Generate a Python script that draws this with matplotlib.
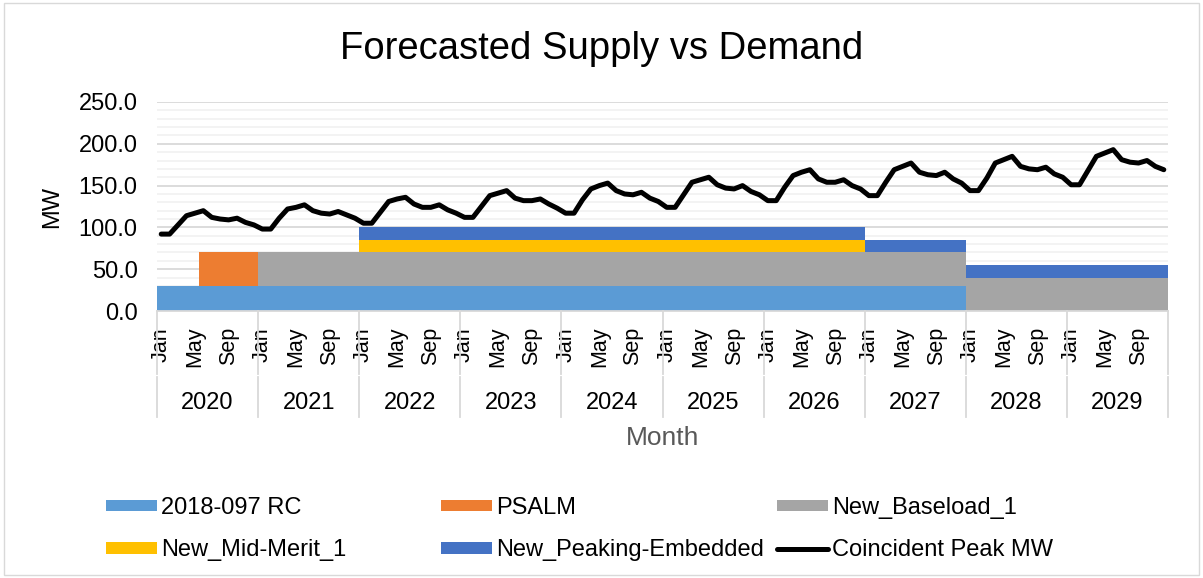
import matplotlib
matplotlib.use("Agg")
import matplotlib.pyplot as plt
import matplotlib.transforms as mtransforms
from matplotlib.patches import Rectangle
import numpy as np

plt.rcParams['font.family'] = ['Liberation Sans', 'DejaVu Sans']

# ---- data ----
years = [2020, 2021, 2022, 2023, 2024, 2025, 2026, 2027, 2028, 2029]
month_names = ['Jan', 'Feb', 'Mar', 'Apr', 'May', 'Jun',
               'Jul', 'Aug', 'Sep', 'Oct', 'Nov', 'Dec']
shown_months = ['Jan', 'May', 'Sep']

# supply by year (MW), repeated over the 12 months of each year
rc_2018_097_yearly = [30, 30, 30, 30, 30, 30, 30, 30, 0, 0]
baseload_yearly = [0, 40, 40, 40, 40, 40, 40, 40, 40, 40]
mid_merit_yearly = [0, 0, 15, 15, 15, 15, 15, 0, 0, 0]
peaking_yearly = [0, 0, 15, 15, 15, 15, 15, 15, 15, 15]
# PSALM only Jun-Dec 2020
psalm_2020 = [0, 0, 0, 0, 0, 40, 40, 40, 40, 40, 40, 40]

# coincident peak demand (MW), one row per year
peak_mw = [
    [92, 92, 103, 114, 117, 120, 112, 110, 109, 111, 106, 103],
    [98, 98, 111, 122, 124, 127, 120, 117, 116, 119, 115, 111],
    [105, 105, 118, 131, 134, 136, 128, 124, 124, 127, 121, 117],
    [112, 112, 125, 138, 141, 144, 135, 132, 132, 134, 128, 123],
    [117, 117, 133, 146, 150, 153, 144, 140, 139, 142, 135, 131],
    [124, 124, 139, 154, 157, 160, 151, 147, 146, 150, 143, 139],
    [132, 132, 148, 162, 166, 169, 158, 154, 154, 157, 150, 146],
    [138, 138, 154, 169, 173, 177, 166, 163, 162, 166, 158, 153],
    [144, 144, 159, 177, 181, 185, 173, 170, 169, 172, 164, 160],
    [151, 151, 168, 185, 189, 193, 181, 178, 177, 180, 173, 169],
]

# ---- build monthly series ----
n = len(years) * 12
x = np.arange(n)
rc = np.repeat(rc_2018_097_yearly, 12)
psalm = np.array(psalm_2020 + [0] * (n - 12))
baseload = np.repeat(baseload_yearly, 12)
mid_merit = np.repeat(mid_merit_yearly, 12)
peaking = np.repeat(peaking_yearly, 12)
demand = np.array(peak_mw).ravel()

W, H = 1203, 578
fig = plt.figure(figsize=(W / 100, H / 100), dpi=100)
ax = fig.add_axes([157 / W, 1 - 311 / H, (1168 - 157) / W, (311 - 102) / H])

series = [
    ('2018-097 RC', rc, '#5B9BD5'),
    ('PSALM', psalm, '#ED7D31'),
    ('New_Baseload_1', baseload, '#A5A5A5'),
    ('New_Mid-Merit_1', mid_merit, '#FFC000'),
    ('New_Peaking-Embedded', peaking, '#4472C4'),
]
handles = {}
bottom = np.zeros(n)
for name, vals, col in series:
    bars = ax.bar(x, vals, width=1.0, bottom=bottom, color=col,
                  linewidth=0, antialiased=False, zorder=2, label=name)
    handles[name] = bars
    bottom = bottom + vals

line, = ax.plot(x, demand, color='black', lw=3.6, zorder=3,
                solid_joinstyle='round', solid_capstyle='round',
                label='Coincident Peak MW')
handles['Coincident Peak MW'] = line

# ---- axes styling ----
ax.set_xlim(-0.5, n - 0.5)
ax.set_ylim(0, 250)
ax.set_yticks(np.arange(0, 251, 50))
ax.set_yticks(np.arange(0, 251, 10), minor=True)
ax.yaxis.set_major_formatter(matplotlib.ticker.FormatStrFormatter('%.1f'))
ax.grid(axis='y', which='minor', color='#f2f2f2', lw=1.3, zorder=0)
ax.grid(axis='y', which='major', color='#d9d9d9', lw=1.3, zorder=1)
ax.tick_params(axis='y', which='both', length=0, pad=14, labelsize=17)
for s in ['left', 'right', 'top']:
    ax.spines[s].set_visible(False)
ax.spines['bottom'].set_color('#d9d9d9')
ax.spines['bottom'].set_linewidth(1.3)
ax.set_axisbelow(True)

tick_pos = [i for i in x if month_names[i % 12] in shown_months]
ax.set_xticks(tick_pos)
ax.set_xticklabels([month_names[i % 12] for i in tick_pos], rotation=90)
ax.tick_params(axis='x', length=0, pad=11.5, labelsize=15.5)

# year labels and separators
trans = mtransforms.blended_transform_factory(ax.transData, ax.transAxes)
axh = 311 - 102
for k in range(len(years) + 1):
    xb = k * 12 - 0.5
    ax.plot([xb, xb], [0, -(374 - 311) / axh], transform=trans,
            color='#d9d9d9', lw=1.3, clip_on=False)
    ax.plot([xb, xb], [-(377 - 311) / axh, -(417 - 311) / axh], transform=trans,
            color='#d9d9d9', lw=1.3, clip_on=False)
for k, yr in enumerate(years):
    ax.text(k * 12 + 5.5, -(403 - 311) / axh, str(yr), transform=trans,
            ha='center', va='center', fontsize=17)

ax.set_ylabel('MW', fontsize=17)
ax.yaxis.set_label_coords(-(157 - 63) / (1168 - 157), 0.5)

fig.text((157 + 1168) / 2 / W, 1 - 438 / H, 'Month', ha='center', va='center',
         fontsize=19, color='#595959')
fig.text(0.5, 1 - 49 / H, 'Forecasted Supply vs Demand', ha='center',
         va='center', fontsize=27.5)

# ---- legend: three columns ----
cols = [
    (106, ['2018-097 RC', 'New_Mid-Merit_1']),
    (441, ['PSALM', 'New_Peaking-Embedded']),
    (777, ['New_Baseload_1', 'Coincident Peak MW']),
]
for xpx, names in cols:
    fig.legend([handles[nm] for nm in names], names, loc='center left',
               bbox_to_anchor=(xpx / W, 1 - 529 / H), frameon=False,
               fontsize=17, handlelength=2.15, handleheight=0.4,
               handletextpad=0.2, labelspacing=0.85, borderpad=0,
               borderaxespad=0)

fig.patches.append(Rectangle((4 / W, 3 / H), 1 - 8 / W, 1 - 6 / H,
                             transform=fig.transFigure, fill=False,
                             edgecolor='#d9d9d9', lw=1))

fig.savefig('out.png', dpi=100)
